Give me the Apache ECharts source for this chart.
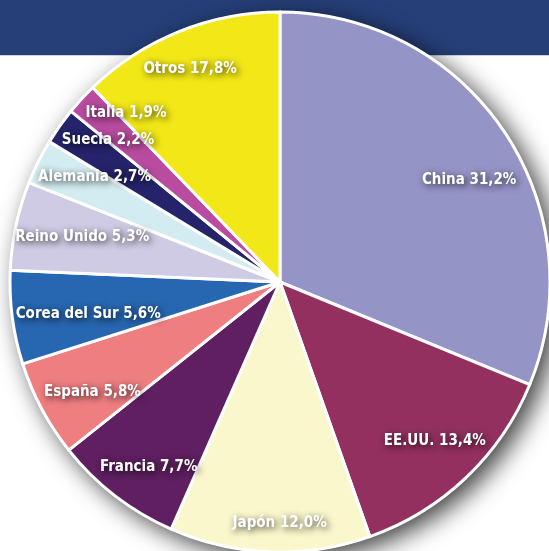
<!DOCTYPE html>
<html>
<head>
<meta charset="utf-8">
<script src="https://cdn.jsdelivr.net/npm/echarts@6/dist/echarts.min.js"></script>
<style>
  html, body { margin: 0; padding: 0; background: #fff; }
  #grafico { width: 549px; height: 551px; }
</style>
</head>
<body>
<div id="grafico"></div>
<script>
// paises, en el orden del grafico (desde arriba, sentido horario)
var paises = ['China', 'EE.UU.', 'Japón', 'Francia', 'España', 'Corea del Sur',
              'Reino Unido', 'Alemania', 'Suecia', 'Italia', 'Otros'];
// porcentajes que muestran las etiquetas
var porcentajes = [31.2, 13.4, 12.0, 7.7, 5.8, 5.6, 5.3, 2.7, 2.2, 1.9, 17.8];
// tamaño dibujado de cada sector (Otros ocupa menos de lo que dice su etiqueta)
var sectores = [31.2, 13.4, 12.0, 7.7, 5.8, 5.6, 5.3, 2.7, 2.2, 1.9, 12.2];
var colores = ['#9594c7', '#93305f', '#faf7cc', '#5f1f61', '#ef7e80', '#2766b0',
               '#cfcbe4', '#d3ecf1', '#25246b', '#b94ca0', '#f2e817'];
// pequeños retoques de posicion de cada etiqueta (px)
var retoques = [[5, 22], [2, -2], [8, 20], [4, 10], [8, 6], [28, 3],
                [19, 1], [13, -6], [9, -14], [9, -19], [-7, -7]];

var chart = echarts.init(document.getElementById('grafico'));

var R = 270;
var centro = [280, 282];

var datosSectores = [];
var datosEtiquetas = [];
for (var i = 0; i < paises.length; i++) {
    datosSectores.push({
        name: paises[i],
        value: sectores[i],
        itemStyle: { color: colores[i] }
    });
    datosEtiquetas.push({
        name: paises[i],
        value: sectores[i],
        pct: porcentajes[i],
        label: { offset: retoques[i] }
    });
}

var option = {
    animation: false,
    graphic: [
        {
            type: 'rect',
            z: 0,
            shape: { x: 0, y: 0, width: 549, height: 55 },
            style: { fill: '#263f79' }
        },
        {
            type: 'rect',
            z: 0,
            shape: { x: 0, y: 55, width: 549, height: 1 },
            style: { fill: '#c9d3e6' }
        }
    ],
    series: [
        //sombra del pastel
        {
            type: 'pie',
            z: 2,
            silent: true,
            radius: R + 1,
            center: centro,
            label: { show: false },
            itemStyle: {
                color: '#fff',
                shadowBlur: 24,
                shadowColor: 'rgba(0,0,0,0.75)',
                shadowOffsetX: 8,
                shadowOffsetY: 7
            },
            data: [{ value: 1 }]
        },
        //sectores
        {
            type: 'pie',
            z: 3,
            silent: true,
            radius: R,
            center: centro,
            startAngle: 90,
            label: { show: false },
            itemStyle: { borderColor: '#fff', borderWidth: 3 },
            data: datosSectores
        },
        //etiquetas (pastel transparente, mas grande para llevarlas hacia fuera)
        {
            type: 'pie',
            z: 4,
            silent: true,
            radius: [0, R * 1.62],
            center: centro,
            startAngle: 90,
            itemStyle: { color: 'transparent' },
            label: {
                show: true,
                position: 'inside',
                color: '#fff',
                fontFamily: "'DejaVu Sans Condensed', 'DejaVu Sans', sans-serif",
                fontWeight: 'bold',
                fontSize: 15,
                textShadowColor: 'rgba(0,0,0,0.8)',
                textShadowBlur: 7,
                textShadowOffsetX: 2,
                textShadowOffsetY: 2,
                formatter: function (p) {
                    return p.name + ' ' + p.data.pct.toFixed(1).replace('.', ',') + '%';
                }
            },
            data: datosEtiquetas
        }
    ]
};
chart.setOption(option);
</script>
</body>
</html>
